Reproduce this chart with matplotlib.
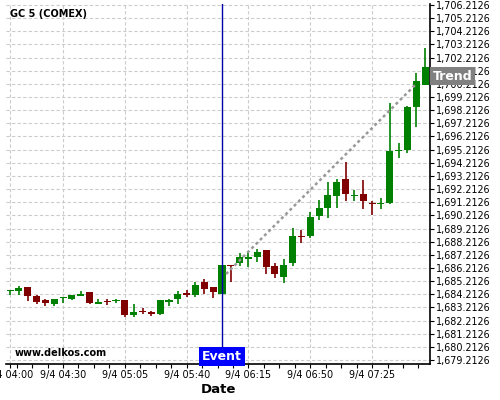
import matplotlib
matplotlib.use("Agg")
import matplotlib.pyplot as plt
import matplotlib.ticker as mticker
import numpy as np

# candles every 5 minutes starting 9/4 04:00 (x = minutes after 04:00)
opens = [1684.44, 1684.48, 1684.77, 1684.08, 1683.78, 1683.49, 1683.91, 1683.85, 1684.10, 1684.38,
         1683.49, 1683.62, 1683.68, 1683.78, 1682.66, 1682.96, 1682.89, 1682.73, 1683.65, 1683.87,
         1684.23, 1684.18, 1685.14, 1684.77, 1684.25, 1686.44, 1686.61, 1686.89, 1687.07, 1687.58,
         1686.36, 1685.55, 1686.61, 1688.64, 1688.64, 1690.17, 1690.80, 1691.71, 1692.98, 1691.69,
         1691.84, 1691.15, 1691.08, 1691.18, 1695.11, 1695.18, 1698.48, 1700.13]
highs = [1684.54, 1684.84, 1684.77, 1684.16, 1683.87, 1683.85, 1683.93, 1684.16, 1684.44, 1684.38,
         1683.83, 1683.83, 1683.85, 1683.78, 1683.45, 1683.14, 1682.96, 1683.78, 1683.85, 1684.46,
         1684.54, 1685.14, 1685.37, 1684.77, 1686.44, 1686.44, 1687.33, 1687.45, 1687.63, 1687.58,
         1686.57, 1686.90, 1689.27, 1689.08, 1690.45, 1691.38, 1692.73, 1692.96, 1694.30, 1692.14,
         1692.90, 1691.31, 1691.51, 1698.74, 1695.69, 1698.55, 1701.06, 1702.92]
lows = [1684.16, 1684.13, 1683.72, 1683.45, 1683.30, 1683.30, 1683.52, 1683.77, 1684.06, 1683.49,
        1683.45, 1683.42, 1683.52, 1682.51, 1682.46, 1682.69, 1682.56, 1682.66, 1683.32, 1683.49,
        1684.03, 1684.03, 1684.23, 1683.90, 1684.25, 1685.17, 1686.36, 1686.26, 1686.69, 1685.73,
        1685.43, 1685.05, 1686.36, 1688.13, 1688.51, 1689.86, 1689.99, 1690.75, 1691.33, 1691.31,
        1690.67, 1690.24, 1690.67, 1691.08, 1694.55, 1694.93, 1696.96, 1700.13]
closes = [1684.46, 1684.71, 1684.10, 1683.65, 1683.57, 1683.85, 1683.93, 1684.16, 1684.26, 1683.57,
          1683.62, 1683.60, 1683.70, 1682.66, 1682.86, 1682.86, 1682.73, 1683.78, 1683.78, 1684.23,
          1684.18, 1684.92, 1684.59, 1684.41, 1686.44, 1686.36, 1687.05, 1687.02, 1687.43, 1686.31,
          1685.75, 1686.44, 1688.64, 1688.54, 1690.09, 1690.80, 1691.76, 1692.75, 1691.86, 1691.76,
          1691.33, 1691.08, 1691.15, 1695.11, 1695.18, 1698.43, 1700.43, 1701.47]
minutes = np.arange(len(opens)) * 5

event_minute = 120
trend_minutes = [122.3, 229.3]
trend_prices = [1685.75, 1700.12]
trend_label_price = 1700.8

xtick_minutes = [0, 30, 65, 100, 135, 170, 205]
xtick_labels = ["9/4 04:00", "9/4 04:30", "9/4 05:05", "9/4 05:40", "9/4 06:15", "9/4 06:50", "9/4 07:25"]
ytick_values = 1679.2126 + np.arange(28)

fig = plt.figure(figsize=(5, 4), dpi=100)
ax = fig.add_axes([0.012, 0.09, 0.848, 0.90])

up = "#008000"
down = "#800000"
for m, o, h, l, c in zip(minutes, opens, highs, lows, closes):
    col = up if c >= o else down
    ax.vlines(m, l, h, color=col, linewidth=1.2, zorder=3)
    body = max(abs(c - o), 0.1)
    ax.bar(m, body, bottom=min(o, c), width=4.0, color=col, linewidth=0, zorder=4)

ax.plot(trend_minutes, trend_prices, color="#999999", linestyle=(0, (1.2, 1.2)), linewidth=1.8, zorder=5)

ax.axvline(event_minute, color="#0000aa", linewidth=1.0, zorder=6)
ax.text(event_minute, 1678.99, "Event", color="white", fontsize=9, fontweight="bold",
        ha="center", va="bottom", zorder=7,
        bbox=dict(boxstyle="square,pad=0.25", facecolor="#0000ff", edgecolor="none"))

ax.text(1.006, trend_label_price, "Trend", color="white", fontsize=9, fontweight="bold",
        ha="left", va="center", transform=ax.get_yaxis_transform(), zorder=10, clip_on=False,
        bbox=dict(boxstyle="square,pad=0.2", facecolor="#808080", edgecolor="none"))

ax.text(0.01, 0.972, "GC 5 (COMEX)", transform=ax.transAxes, fontsize=7, fontweight="bold",
        ha="left", va="center")
ax.text(0.02, 0.03, "www.delkos.com", transform=ax.transAxes, fontsize=7, fontweight="bold",
        ha="left", va="center")

ax.set_xlim(-2.3, 237.8)
ax.set_ylim(1678.907, 1706.29)

ax.xaxis.set_major_locator(mticker.FixedLocator(xtick_minutes))
ax.xaxis.set_major_formatter(mticker.FixedFormatter(xtick_labels))
minor = [m for m in np.arange(3.75, 237, 8.75) if m not in xtick_minutes]
ax.xaxis.set_minor_locator(mticker.FixedLocator(minor))

ax.yaxis.tick_right()
ax.set_yticks(ytick_values)
ax.yaxis.set_major_formatter(mticker.FuncFormatter(lambda v, p: "{:,.4f}".format(v)))
ax.tick_params(axis="both", labelsize=6.9, length=3, width=0.8, pad=1.5, direction="out")
ax.tick_params(axis="x", which="minor", length=3, width=0.8)

ax.grid(True, color="#cccccc", linestyle=(0, (3, 2)), linewidth=0.8)
ax.set_axisbelow(True)
for s in ["top", "left"]:
    ax.spines[s].set_visible(False)
ax.spines["right"].set_linewidth(1.2)
ax.spines["bottom"].set_linewidth(1.2)

ax.set_xlabel("Date", fontsize=9.5, fontweight="bold", labelpad=2)

fig.savefig("out.png", dpi=100)
